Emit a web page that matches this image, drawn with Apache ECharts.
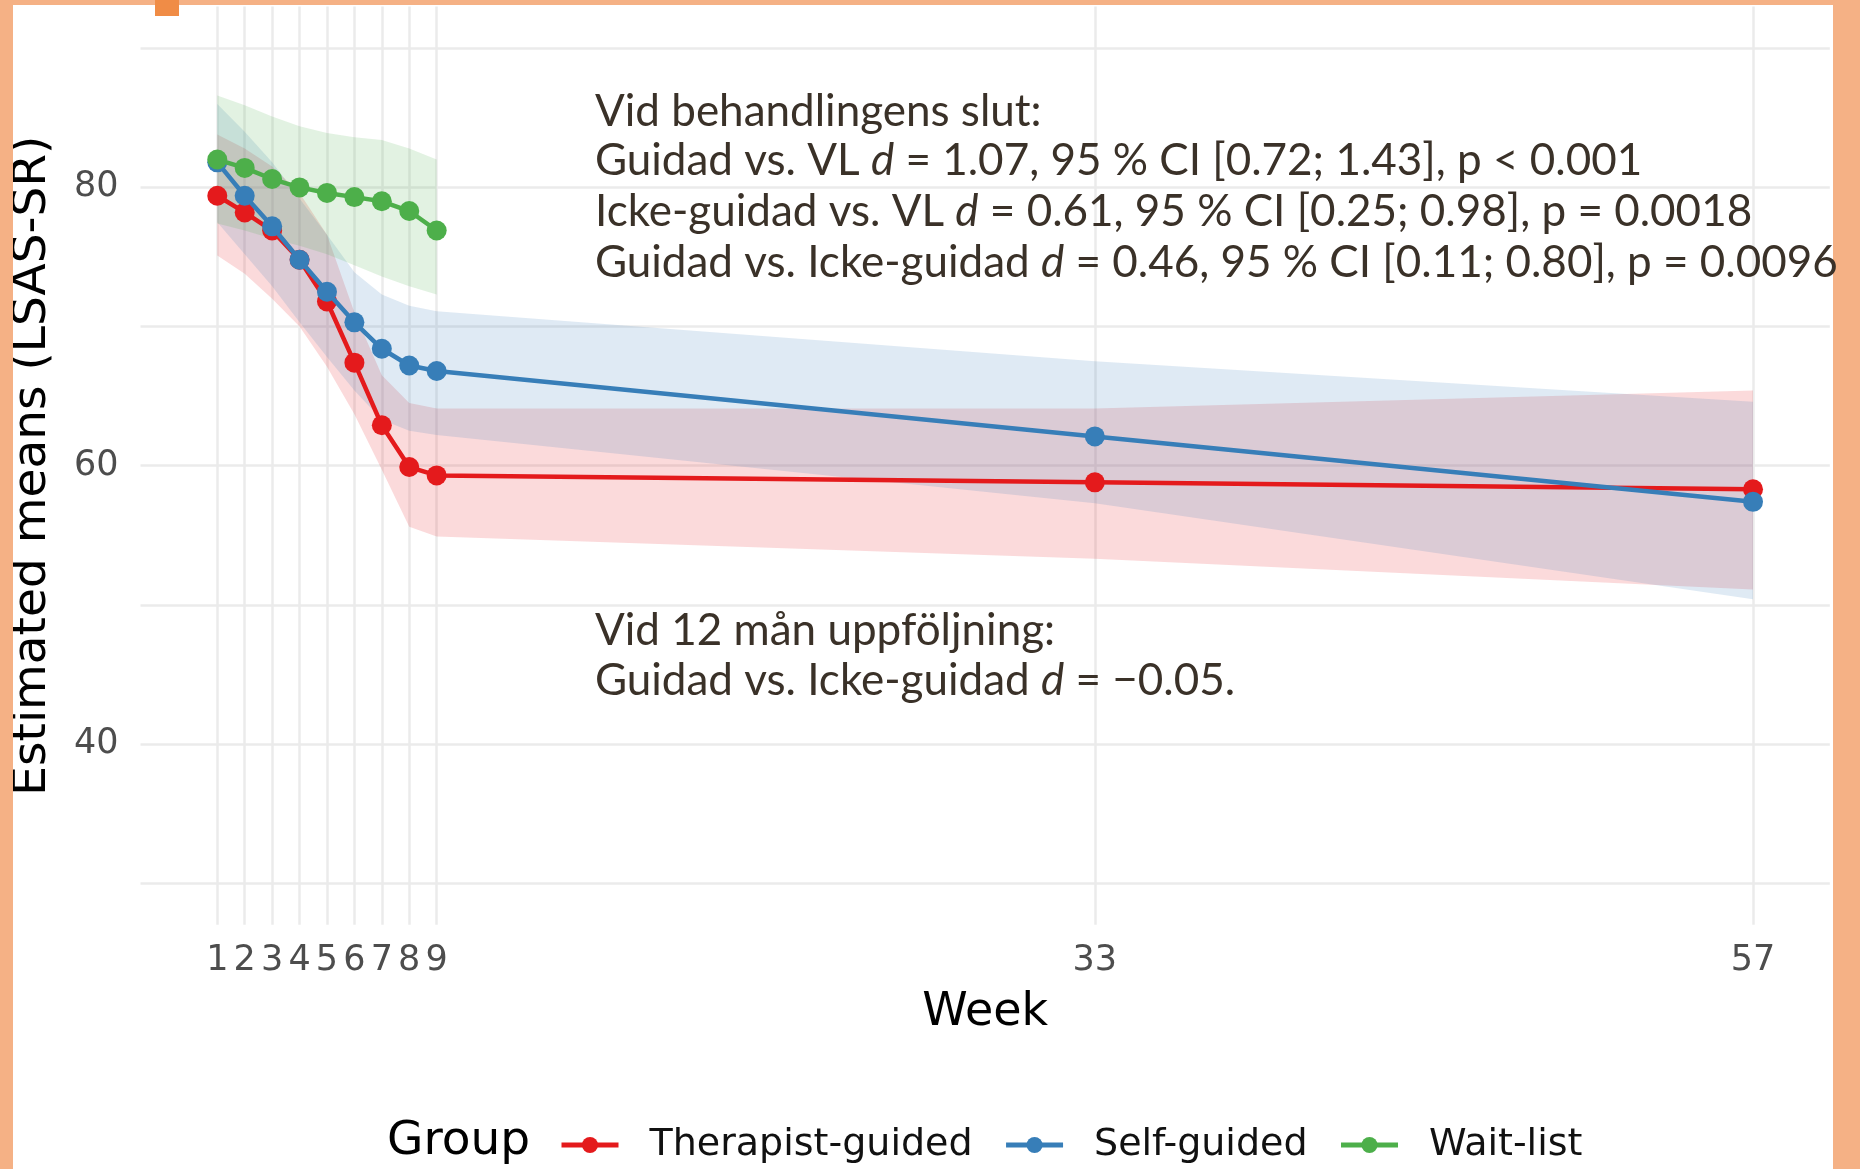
<!DOCTYPE html>
<html><head><meta charset="utf-8">
<script src="https://cdn.jsdelivr.net/npm/echarts@6/dist/echarts.min.js"></script>
<style>html,body{margin:0;padding:0;background:#fff}#c{width:1860px;height:1169px}</style>
</head><body><div id="c"></div>
<script>
// ---- data ----
const weeks = [1, 2, 3, 4, 5, 6, 7, 8, 9, 33, 57];
const waitWeeks = [1, 2, 3, 4, 5, 6, 7, 8, 9];

const therapistMean  = [79.4, 78.2, 76.9, 74.8, 71.8, 67.4, 62.9, 59.9, 59.3, 58.8, 58.3];
const therapistUpper = [83.8, 82.8, 81.5, 79.6, 76.6, 71.0, 66.5, 64.5, 64.1, 64.1, 65.4];
const therapistLower = [75.1, 73.8, 72.0, 70.0, 67.1, 63.7, 59.7, 55.6, 54.9, 53.3, 51.1];

const selfMean  = [81.8, 79.4, 77.2, 74.8, 72.5, 70.3, 68.4, 67.2, 66.8, 62.1, 57.4];
const selfUpper = [86.0, 84.0, 81.8, 79.2, 76.6, 73.9, 72.3, 71.5, 71.1, 67.5, 64.6];
const selfLower = [77.5, 75.2, 72.9, 70.3, 67.8, 65.4, 63.3, 62.5, 62.2, 57.3, 50.4];

const waitMean  = [82.0, 81.4, 80.6, 80.0, 79.6, 79.3, 79.0, 78.3, 76.9];
const waitUpper = [86.6, 85.9, 85.1, 84.4, 83.9, 83.6, 83.4, 82.8, 82.0];
const waitLower = [77.4, 76.9, 76.3, 75.8, 75.2, 74.4, 73.6, 72.9, 72.3];

const xTickValues = [1, 2, 3, 4, 5, 6, 7, 8, 9, 33, 57];
const yTickValues = [40, 60, 80];
const yGridValues = [30, 40, 50, 60, 70, 80, 90];

const groupNames = ['Therapist-guided', 'Self-guided', 'Wait-list'];

// ---- styles ----
const RED = '#E41A1C', BLUE = '#377EB8', GREEN = '#4DAF4A';
const ANN = '#3a3128';
const annFont = 'Lato, "Open Sans", sans-serif';

function ribbon(name, xs, up, lo, fill, z) {
  return {
    type: 'custom', name: name, silent: true, z: z,
    data: [[xs[0], up[0]]],
    renderItem: function (params, api) {
      const pts = [];
      for (let i = 0; i < xs.length; i++) pts.push(api.coord([xs[i], up[i]]));
      for (let i = xs.length - 1; i >= 0; i--) pts.push(api.coord([xs[i], lo[i]]));
      return { type: 'polygon', shape: { points: pts }, style: { fill: fill } };
    }
  };
}
function line(name, xs, ys, color, z) {
  return {
    type: 'line', name: name, z: z,
    data: xs.map((x, i) => [x, ys[i]]),
    symbol: 'circle', symbolSize: 20, showSymbol: true,
    lineStyle: { color: color, width: 4.5 },
    itemStyle: { color: color, borderWidth: 0 },
    emphasis: { disabled: true }
  };
}
function annLine(y, parts) {
  return {
    type: 'text', x: 595, y: y, z: 100,
    style: {
      text: parts, fill: ANN, fontFamily: annFont, fontSize: 44, verticalAlign: 'middle',
      rich: { i: { fontStyle: 'italic', fontFamily: annFont, fontSize: 44, fill: ANN } }
    }
  };
}

const chart = echarts.init(document.getElementById('c'), null, { renderer: 'canvas' });
chart.setOption({
  animation: false,
  backgroundColor: '#ffffff',
  grid: { left: 140.5, right: 30.2, top: 6.5, bottom: 244.2, containLabel: false },
  xAxis: {
    type: 'value', min: -1.8, max: 59.8,
    name: 'Week', nameLocation: 'middle', nameGap: 65,
    nameTextStyle: { fontFamily: 'DejaVu Sans', fontSize: 46, color: '#000' },
    axisLine: { show: false }, axisTick: { show: false }, splitLine: { show: false },
    axisLabel: { customValues: xTickValues, margin: 19, fontFamily: 'DejaVu Sans', fontSize: 35, color: '#4D4D4D' }
  },
  yAxis: {
    type: 'value', min: 27, max: 93,
    name: 'Estimated means (LSAS-SR)', nameLocation: 'middle', nameGap: 84,
    nameTextStyle: { fontFamily: 'DejaVu Sans', fontSize: 47, color: '#000' },
    axisLine: { show: false }, axisTick: { show: false }, splitLine: { show: false },
    axisLabel: { customValues: yTickValues, margin: 22, fontFamily: 'DejaVu Sans', fontSize: 35, color: '#4D4D4D' }
  },
  legend: {
    data: groupNames, left: 554, top: 1121, orient: 'horizontal',
    itemWidth: 57, itemHeight: 20, itemGap: 31,
    lineStyle: { width: 5 },
    textStyle: { fontFamily: 'DejaVu Sans', fontSize: 38, color: '#111', padding: [0, 0, 0, 26] },
    selectedMode: false
  },
  graphic: [
    { type: 'rect', shape: { x: 0, y: 0, width: 13, height: 1169 }, style: { fill: '#F5B185' }, z: 1 },
    { type: 'rect', shape: { x: 0, y: 0, width: 1860, height: 5 }, style: { fill: '#F5B185' }, z: 1 },
    { type: 'rect', shape: { x: 1833, y: 0, width: 27, height: 1169 }, style: { fill: '#F5B185' }, z: 1 },
    { type: 'rect', shape: { x: 155, y: 0, width: 24, height: 16 }, style: { fill: '#F08C46' }, z: 2 },
    { type: 'text', x: 387, y: 1142, z: 100, style: { text: 'Group', fontFamily: 'DejaVu Sans', fontSize: 47, fill: '#000', verticalAlign: 'middle' } },
    annLine(112, 'Vid behandlingens slut:'),
    annLine(161, 'Guidad vs. VL {i|d} = 1.07, 95 % CI [0.72; 1.43], p < 0.001'),
    annLine(212, 'Icke-guidad vs. VL {i|d} = 0.61, 95 % CI [0.25; 0.98], p = 0.0018'),
    annLine(263, 'Guidad vs. Icke-guidad {i|d} = 0.46, 95 % CI [0.11; 0.80], p = 0.0096'),
    annLine(631, 'Vid 12 mån uppföljning:'),
    annLine(681, 'Guidad vs. Icke-guidad {i|d} = \u22120.05.')
  ],
  series: [
    {
      type: 'line', name: 'grid', data: [], z: 0, silent: true,
      markLine: {
        z: 0, silent: true, symbol: ['none', 'none'], label: { show: false }, animation: false,
        lineStyle: { color: '#EBEBEB', width: 2.5, type: 'solid' },
        emphasis: { disabled: true },
        data: xTickValues.map(v => ({ xAxis: v })).concat(yGridValues.map(v => ({ yAxis: v })))
      }
    },
    ribbon('Therapist-guided CI', weeks, therapistUpper, therapistLower, 'rgba(228,26,28,0.16)', 1),
    ribbon('Self-guided CI', weeks, selfUpper, selfLower, 'rgba(55,126,184,0.16)', 1),
    ribbon('Wait-list CI', waitWeeks, waitUpper, waitLower, 'rgba(77,175,74,0.16)', 1),
    line('Therapist-guided', weeks, therapistMean, RED, 3),
    line('Self-guided', weeks, selfMean, BLUE, 4),
    line('Wait-list', waitWeeks, waitMean, GREEN, 5)
  ]
});
</script></body></html>
